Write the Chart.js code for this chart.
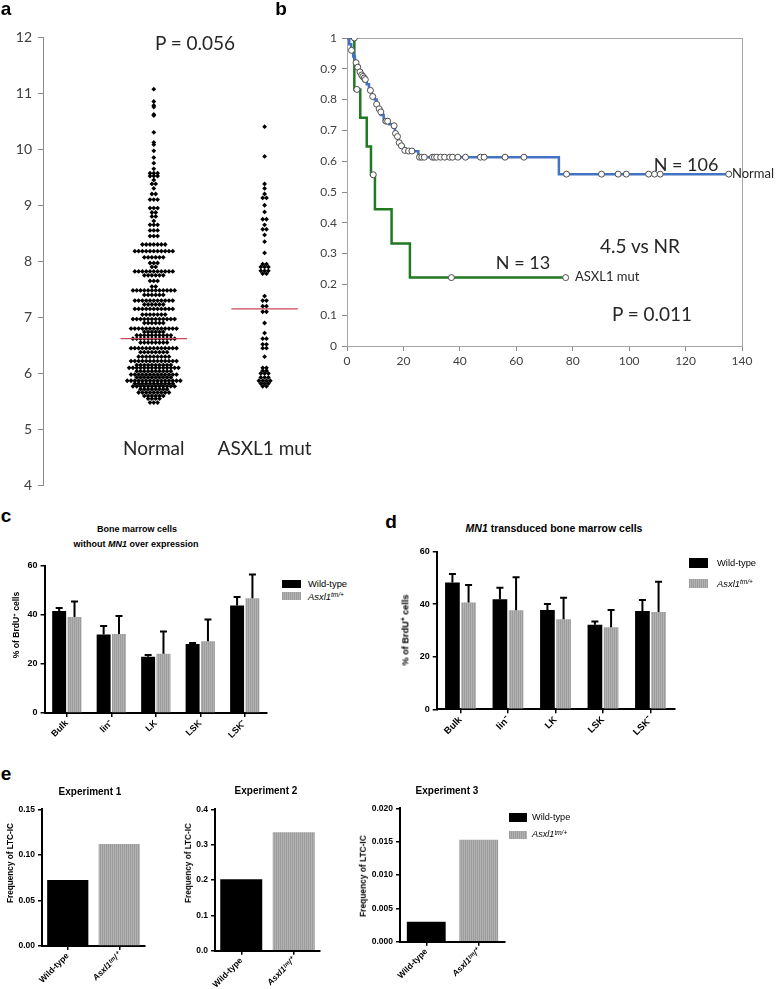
<!DOCTYPE html>
<html>
<head>
<meta charset="utf-8">
<script src="https://cdn.jsdelivr.net/npm/chart.js@4.4.0/dist/chart.umd.min.js"></script>
<style>
  body { margin: 0; background: #fff; }
  #page { position: relative; width: 778px; height: 989px; overflow: hidden; font-family: 'Liberation Sans', Arial, sans-serif; color: #000; }
  canvas { position: absolute; }
  .t { position: absolute; white-space: nowrap; transform: translate(-50%, -50%); line-height: 1; }
  .l { position: absolute; white-space: nowrap; transform: translateY(-50%); line-height: 1; }
  .yt { position: absolute; white-space: nowrap; transform: translate(-50%, -50%) rotate(-90deg); line-height: 1; font-weight: bold; }
  .cal { font-family: Lato, 'Open Sans', sans-serif; color: #262626; }
  .pl { font-weight: bold; font-size: 19px; }
  .ttl { font-weight: bold; }
  .box { position: absolute; }
  .wt { background: #000; }
  .ko { background: repeating-linear-gradient(90deg, #9c9c9c 0 1px, #b2b2b2 1px 2px); }
  sup { font-size: 0.7em; vertical-align: 0.45em; line-height: 0; }
</style>
</head>
<body>
<div id="page">
  <canvas id="chartA" width="330" height="500" style="left:0;top:0"></canvas>
  <canvas id="chartB" width="478" height="380" style="left:300px;top:0"></canvas>
  <canvas id="chartC" width="280" height="205" style="left:0;top:555px"></canvas>
  <canvas id="chartD" width="300" height="220" style="left:390px;top:540px"></canvas>
  <canvas id="chartE1" width="160" height="194" style="left:0;top:795px"></canvas>
  <canvas id="chartE2" width="160" height="194" style="left:172px;top:795px"></canvas>
  <canvas id="chartE3" width="160" height="194" style="left:355px;top:795px"></canvas>

  <!-- panel letters -->
  <div class="t pl" style="left:6px;top:8px">a</div>
  <div class="t pl" style="left:281px;top:8px">b</div>
  <div class="t pl" style="left:6px;top:515px">c</div>
  <div class="t pl" style="left:391px;top:521px">d</div>
  <div class="t pl" style="left:6px;top:773px">e</div>

  <!-- panel a / b annotations -->
  <div class="t cal" style="left:195px;top:42px;font-size:19px">P = 0.056</div>
  <div class="t cal" style="left:686px;top:164px;font-size:18px">N = 106</div>
  <div class="l cal" style="left:732px;top:173px;font-size:13px">Normal</div>
  <div class="t cal" style="left:640px;top:245px;font-size:19px">4.5 vs NR</div>
  <div class="t cal" style="left:523px;top:262px;font-size:18px">N = 13</div>
  <div class="l cal" style="left:575px;top:276px;font-size:13px">ASXL1 mut</div>
  <div class="t cal" style="left:652px;top:313px;font-size:19px">P = 0.011</div>

  <!-- panel c -->
  <div class="t ttl" style="left:137px;top:529px;font-size:9px">Bone marrow cells</div>
  <div class="t ttl" style="left:136px;top:544px;font-size:9px">without <i>MN1</i> over expression</div>
  <div class="yt" style="left:16px;top:625px;font-size:8.6px">% of BrdU<sup>+</sup> cells</div>
  <div class="box wt" style="left:282px;top:580px;width:19px;height:8px"></div>
  <div class="l" style="left:308px;top:584px;font-size:9.4px">Wild-type</div>
  <div class="box ko" style="left:282px;top:592px;width:19px;height:8px"></div>
  <div class="l" style="left:308px;top:597px;font-size:9.4px"><i>Asxl1<sup>tm/+</sup></i></div>

  <!-- panel d -->
  <div class="t ttl" style="left:554px;top:528px;font-size:10.5px"><i>MN1</i> transduced bone marrow cells</div>
  <div class="yt" style="left:406px;top:630px;font-size:9.2px">% of BrdU<sup>+</sup> cells</div>
  <div class="box wt" style="left:689px;top:558px;width:19px;height:10px"></div>
  <div class="l" style="left:717px;top:563px;font-size:9.4px">Wild-type</div>
  <div class="box ko" style="left:689px;top:579px;width:19px;height:9px"></div>
  <div class="l" style="left:717px;top:584px;font-size:9.4px"><i>Asxl1<sup>tm/+</sup></i></div>

  <!-- panel e -->
  <div class="t ttl" style="left:90px;top:792px;font-size:10px">Experiment 1</div>
  <div class="t ttl" style="left:266px;top:791px;font-size:10px">Experiment 2</div>
  <div class="t ttl" style="left:447px;top:791px;font-size:10px">Experiment 3</div>
  <div class="yt" style="left:11px;top:863px;font-size:8.2px">Frequency of LTC-IC</div>
  <div class="yt" style="left:189px;top:863px;font-size:8.2px">Frequency of LTC-IC</div>
  <div class="yt" style="left:363px;top:876px;font-size:8.4px">Frequency of LTC-IC</div>
  <div class="box wt" style="left:509px;top:813px;width:18px;height:9px"></div>
  <div class="l" style="left:532px;top:818px;font-size:9.2px">Wild-type</div>
  <div class="box ko" style="left:509px;top:831px;width:18px;height:8px"></div>
  <div class="l" style="left:532px;top:835px;font-size:9.2px"><i>Asxl1<sup>tm/+</sup></i></div>
</div>

<script>
// ---- panel a: expression values per group ----
const groupsA = ['Normal', 'ASXL1 mut'];
const normalValues = [
  11.07, 10.85, 10.78, 10.75, 10.62, 10.6, 10.3, 10.12, 10.08, 9.97, 9.85, 9.75, 9.65,
  9.57, 9.57, 9.57, 9.52, 9.52, 9.52, 9.45, 9.38, 9.38, 9.3, 9.2, 9.2, 9.1, 9.1, 9.1,
  8.95, 8.95, 8.95, 8.87, 8.87, 8.8, 8.8, 8.72, 8.65, 8.65, 8.65, 8.55, 8.55, 8.55, 8.45, 8.45, 8.45,
  8.3, 8.3, 8.3, 8.3, 8.3, 8.3, 8.3,
  8.18, 8.18, 8.18, 8.18, 8.18, 8.18, 8.18, 8.18, 8.18, 8.18, 8.18,
  8.07, 8.07, 8.07, 8.07, 8.07, 8.07,
  7.97, 7.97, 7.97, 7.9, 7.9,
  7.82, 7.82, 7.82, 7.82, 7.82, 7.82, 7.82, 7.82, 7.82, 7.82, 7.82,
  7.75, 7.75, 7.75, 7.75, 7.75, 7.75,
  7.65, 7.65, 7.65, 7.55, 7.55,
  7.48, 7.48, 7.48, 7.48, 7.48, 7.48, 7.48, 7.48, 7.48, 7.48, 7.48, 7.48,
  7.4, 7.4, 7.4, 7.4, 7.4, 7.4,
  7.3, 7.3, 7.3, 7.3, 7.3, 7.3, 7.3, 7.3, 7.3, 7.3, 7.3,
  7.23, 7.23, 7.23, 7.23, 7.23, 7.23,
  7.15, 7.15, 7.15, 7.15, 7.15, 7.15, 7.15, 7.15, 7.15, 7.15, 7.15,
  7.05, 7.05, 7.05, 7.05, 7.05, 7.05, 7.05,
  6.97, 6.97, 6.97, 6.97, 6.97, 6.97, 6.97, 6.97, 6.97, 6.97, 6.97, 6.97,
  6.9, 6.9, 6.9, 6.9, 6.9, 6.9,
  6.8, 6.8, 6.8, 6.8, 6.8, 6.8, 6.8, 6.8, 6.8, 6.8, 6.8, 6.8, 6.8,
  6.74, 6.74, 6.74, 6.74, 6.74, 6.74,
  6.68, 6.68, 6.68, 6.68, 6.68, 6.68, 6.68, 6.68, 6.68, 6.68,
  6.62, 6.62, 6.62, 6.62, 6.62, 6.62, 6.62, 6.62, 6.62, 6.62, 6.62, 6.62,
  6.55, 6.55, 6.55, 6.55, 6.55, 6.55, 6.55, 6.55,
  6.45, 6.45, 6.45, 6.45, 6.45, 6.45, 6.45, 6.45, 6.45, 6.45, 6.45, 6.45, 6.45,
  6.38, 6.38, 6.38, 6.38, 6.38, 6.38, 6.38, 6.38,
  6.3, 6.3, 6.3, 6.3, 6.3, 6.3, 6.3, 6.3, 6.3,
  6.22, 6.22, 6.22, 6.22, 6.22, 6.22, 6.22, 6.22, 6.22, 6.22, 6.22, 6.22, 6.22,
  6.15, 6.15, 6.15, 6.15, 6.15, 6.15, 6.15, 6.15, 6.15, 6.15,
  6.1, 6.1, 6.1, 6.1, 6.1, 6.1, 6.1, 6.1, 6.1, 6.1, 6.1, 6.1, 6.1, 6.1,
  6.04, 6.04, 6.04, 6.04, 6.04, 6.04, 6.04, 6.04, 6.04, 6.04,
  5.98, 5.98, 5.98, 5.98, 5.98, 5.98, 5.98, 5.98, 5.98, 5.98, 5.98, 5.98, 5.98,
  5.93, 5.93, 5.93, 5.93, 5.93, 5.93, 5.93, 5.93, 5.93, 5.93,
  5.87, 5.87, 5.87, 5.87, 5.87, 5.87, 5.87, 5.87, 5.87, 5.87, 5.87, 5.87, 5.87, 5.87, 5.87,
  5.82, 5.82, 5.82, 5.82, 5.82, 5.82, 5.82, 5.82, 5.82, 5.82, 5.82,
  5.77, 5.77, 5.77, 5.77, 5.77, 5.77, 5.77, 5.77, 5.77, 5.77, 5.77, 5.77,
  5.72, 5.72, 5.72, 5.72, 5.72, 5.72, 5.72, 5.72,
  5.66, 5.66, 5.66, 5.66, 5.66, 5.66, 5.66, 5.66, 5.66,
  5.6, 5.6, 5.6, 5.6, 5.6, 5.6,
  5.55, 5.55, 5.55, 5.55, 5.48, 5.48, 5.48
];
const asxlValues = [
  10.4, 9.87, 9.38, 9.3, 9.2, 9.13, 9.13, 9.0, 8.88, 8.75, 8.75, 8.65, 8.57, 8.57, 8.47, 8.35, 8.15,
  7.95, 7.95, 7.9, 7.9, 7.9, 7.83, 7.83, 7.83, 7.78, 7.78,
  7.38, 7.3, 7.3, 7.2, 7.2, 7.1, 7.1, 6.9, 6.72, 6.62, 6.62, 6.52, 6.52, 6.45, 6.45, 6.3,
  6.1, 6.1, 6.05, 6.05, 6.0, 6.0, 6.0, 5.93, 5.93, 5.93, 5.87, 5.87, 5.87, 5.87, 5.82, 5.82, 5.82, 5.77, 5.77
];
const mediansA = [6.62, 7.15];

// ---- panel b: Kaplan-Meier curves ----
const normalTimes = [0, 0.8, 1.5, 2.2, 2.8, 3.5, 4.3, 5, 6, 7, 7.8, 8.8, 9.8, 10.5, 11.3, 12, 13, 15, 16.3, 17, 17.8, 18.3, 19, 20, 20.8, 25.3, 75.1, 135.3];
const normalSurv = [1, 0.98, 0.96, 0.94, 0.92, 0.91, 0.89, 0.88, 0.86, 0.85, 0.83, 0.81, 0.8, 0.78, 0.77, 0.75, 0.73, 0.72, 0.71, 0.69, 0.68, 0.66, 0.65, 0.64, 0.632, 0.613, 0.558, 0.558];
const normalCensorTimes = [1.6, 3.2, 3.8, 4.6, 5.2, 5.6, 6.1, 6.5, 8.3, 9.1, 10.5, 11.4, 12, 13.8, 14.4, 16.7, 17.2, 17.9, 18.5, 19.3, 20.5, 21.8, 23, 25.7, 26.5, 27.4, 30.3, 31, 31.8, 33.2, 34.6, 36.4, 37.4, 39.3, 42, 47.3, 48.6, 56, 62.7, 77.8, 90.2, 96.1, 99, 106.9, 109, 111, 135.3];
const normalCensorSurv = [0.96, 0.92, 0.905, 0.89, 0.88, 0.875, 0.87, 0.865, 0.83, 0.81, 0.785, 0.77, 0.76, 0.73, 0.73, 0.715, 0.69, 0.68, 0.66, 0.65, 0.635, 0.633, 0.633, 0.613, 0.613, 0.613, 0.613, 0.613, 0.613, 0.613, 0.613, 0.613, 0.613, 0.613, 0.613, 0.613, 0.613, 0.613, 0.613, 0.558, 0.558, 0.558, 0.558, 0.558, 0.558, 0.558, 0.558];
const asxlTimes = [0, 2.6, 4.7, 7, 8.5, 9.9, 15.8, 22.3, 77.5];
const asxlSurv = [1, 0.833, 0.741, 0.648, 0.556, 0.444, 0.333, 0.222, 0.222];
const asxlCensorTimes = [2.6, 3.5, 9.3, 37, 77.5];
const asxlCensorSurv = [1, 0.833, 0.556, 0.222, 0.222];

// ---- panels c, d: % BrdU+ cells ----
const cellTypes = ['Bulk', 'lin\u207B', 'LK', 'LSK', 'LSK\u207B'];
const wtC = [41.6, 32, 23, 28.2, 43.9];
const wtCErr = [1.3, 3.5, 0.7, 0.4, 3.4];
const koC = [39.2, 32.2, 24.2, 29.3, 46.8];
const koCErr = [6.3, 7.4, 9.1, 8.9, 9.7];
const wtD = [48.3, 41.9, 37.8, 32.2, 37.4];
const wtDErr = [3.2, 4.4, 2.3, 1.2, 4.2];
const koD = [40.7, 37.7, 34.3, 31.2, 37.0];
const koDErr = [6.6, 12.6, 8.2, 6.6, 11.6];

// ---- panel e: LTC-IC frequency ----
const genotypes = ['Wild-type', 'Asxl1\u1D57\u1D50/\u207A'];
const exp1 = [0.0724, 0.112];
const exp2 = [0.202, 0.335];
const exp3 = [0.003, 0.0153];

const ARIAL = "'Liberation Sans', Arial, sans-serif";
const CAL = "Lato, 'Open Sans', sans-serif";

// lay equal values side by side in a row, centred on the group (dot plot)
function dotRows(values, center) {
  const gap = 3.8 / 111;   // 3.8px in x units
  const rows = new Map();
  values.forEach(v => rows.set(v, (rows.get(v) || 0) + 1));
  const pts = [];
  rows.forEach((n, v) => {
    for (let k = 0; k < n; k++) pts.push({x: center + (k - (n - 1) / 2) * gap, y: v});
  });
  return pts;
}

const groupLabels = {
  id: 'groupLabels',
  afterDraw(chart) {
    const {ctx, scales: {x, y}} = chart;
    ctx.save();
    ctx.font = '19px ' + CAL;
    ctx.fillStyle = '#262626';
    ctx.textAlign = 'center';
    ctx.textBaseline = 'middle';
    groupsA.forEach((g, i) => ctx.fillText(g, x.getPixelForValue(i + 1), y.getPixelForValue(4.65)));
    ctx.restore();
  }
};

const frame = {
  id: 'frame',
  beforeDatasetsDraw(chart) {
    const {ctx, chartArea: {left, top, right, bottom}} = chart;
    ctx.save();
    ctx.strokeStyle = '#a6a6a6';
    ctx.lineWidth = 1;
    ctx.strokeRect(left + 0.5, top + 0.5, right - left, bottom - top);
    ctx.restore();
  }
};

const errorBars = {
  id: 'errorBars',
  afterDatasetsDraw(chart) {
    const {ctx, scales: {y}} = chart;
    chart.data.datasets.forEach((ds, i) => {
      if (!ds.errors) return;
      chart.getDatasetMeta(i).data.forEach((bar, j) => {
        const top = y.getPixelForValue(ds.data[j] + ds.errors[j]);
        ctx.save();
        ctx.strokeStyle = '#000';
        ctx.lineWidth = 2;
        ctx.beginPath();
        ctx.moveTo(bar.x, bar.y);
        ctx.lineTo(bar.x, top);
        ctx.moveTo(bar.x - 3.5, top);
        ctx.lineTo(bar.x + 3.5, top);
        ctx.stroke();
        ctx.restore();
      });
    });
  }
};

function stripes() {
  const c = document.createElement('canvas');
  c.width = 2; c.height = 2;
  const g = c.getContext('2d');
  g.fillStyle = '#b2b2b2'; g.fillRect(0, 0, 2, 2);
  g.fillStyle = '#9c9c9c'; g.fillRect(0, 0, 1, 2);
  return g.createPattern(c, 'repeat');
}
const grey = stripes();

Chart.defaults.animation = false;
Chart.defaults.responsive = false;
Chart.defaults.devicePixelRatio = 1;
Chart.defaults.plugins.legend.display = false;
Chart.defaults.plugins.tooltip.enabled = false;

// panel a
new Chart(document.getElementById('chartA'), {
  type: 'scatter',
  data: {
    datasets: [
      ...mediansA.map((m, i) => ({
        type: 'line',
        data: [{x: i + 0.7, y: m}, {x: i + 1.3, y: m}],
        borderColor: '#c9485b', borderWidth: 1.3, pointRadius: 0
      })),
      {data: dotRows(normalValues, 1), backgroundColor: '#000', borderWidth: 0, pointStyle: 'rectRot', pointRadius: 2.4},
      {data: dotRows(asxlValues, 2), backgroundColor: '#000', borderWidth: 0, pointStyle: 'rectRot', pointRadius: 2.4}
    ]
  },
  options: {
    layout: {padding: {top: 37, right: 10, bottom: 8, left: 0}},
    scales: {
      x: {display: false, min: 0, max: 2.5},
      y: {
        min: 4, max: 12,
        ticks: {stepSize: 1, color: '#404040', font: {family: CAL, size: 14}, padding: 6},
        grid: {drawOnChartArea: false, color: '#8a8a8a', tickLength: 5},
        border: {color: '#8a8a8a'},
        afterFit: s => { s.width = 43; }
      }
    }
  },
  plugins: [groupLabels]
});

// panel b
const toPts = (xs, ys) => xs.map((t, i) => ({x: t, y: ys[i]}));
const censorStyle = {showLine: false, pointStyle: 'circle', pointRadius: 3, backgroundColor: '#fff', borderColor: '#4d4d4d', borderWidth: 1};
new Chart(document.getElementById('chartB'), {
  type: 'scatter',
  data: {
    datasets: [
      {data: toPts(normalCensorTimes, normalCensorSurv), ...censorStyle},
      {data: toPts(asxlCensorTimes, asxlCensorSurv), ...censorStyle},
      {data: toPts(normalTimes, normalSurv), showLine: true, stepped: 'before', borderColor: '#4472c4', borderWidth: 2.5, pointRadius: 0},
      {data: toPts(asxlTimes, asxlSurv), showLine: true, stepped: 'before', borderColor: '#217a21', borderWidth: 2.5, pointRadius: 0}
    ]
  },
  options: {
    layout: {padding: {top: 38, right: 36, bottom: 0, left: 0}},
    scales: {
      x: {
        min: 0, max: 140,
        ticks: {stepSize: 20, color: '#404040', font: {family: CAL, size: 12}, padding: 3},
        grid: {drawOnChartArea: false, color: '#8a8a8a', tickLength: 5},
        border: {color: '#8a8a8a'},
        afterFit: s => { s.height = 34; }
      },
      y: {
        min: 0, max: 1,
        ticks: {stepSize: 0.1, color: '#404040', font: {family: CAL, size: 12}, padding: 5, callback: v => String(Math.round(v * 10) / 10)},
        grid: {drawOnChartArea: false, color: '#8a8a8a', tickLength: 5},
        border: {color: '#8a8a8a'},
        afterFit: s => { s.width = 47; }
      }
    }
  },
  plugins: [frame]
});

// bar charts (panels c, d, e)
function barChart(id, labels, sets, o) {
  return new Chart(document.getElementById(id), {
    type: 'bar',
    data: {
      labels,
      datasets: sets.map(s => ({
        data: s.data, errors: s.err, backgroundColor: s.color,
        barPercentage: o.barPct, categoryPercentage: o.catPct
      }))
    },
    options: {
      layout: {padding: {top: o.top, right: o.right, bottom: 0, left: 0}},
      scales: {
        x: {
          grid: {drawOnChartArea: false, offset: false, color: '#000', lineWidth: 1.5, tickLength: 4},
          border: {color: '#000', width: 2},
          ticks: {
            autoSkip: false, minRotation: 45, maxRotation: 45, padding: 1, color: '#000',
            font: ctx => ({family: ARIAL, size: o.xFont, weight: 'bold', style: o.italicLast && ctx.index === 1 ? 'italic' : 'normal'})
          },
          afterFit: s => { s.height = o.xh; }
        },
        y: {
          min: 0, max: o.max,
          ticks: {stepSize: o.step, color: '#000', padding: 3, font: {family: ARIAL, size: o.yFont, weight: 'bold'}, callback: v => v.toFixed(o.dec)},
          grid: {drawOnChartArea: false, color: '#000', lineWidth: 1.5, tickLength: 4},
          border: {color: '#000', width: 2},
          afterFit: s => { s.width = o.left; }
        }
      }
    },
    plugins: [errorBars]
  });
}

barChart('chartC', cellTypes, [
  {data: wtC, err: wtCErr, color: '#000'},
  {data: koC, err: koCErr, color: grey}
], {top: 11, right: 13, left: 44.6, xh: 47, max: 60, step: 20, dec: 0, barPct: 0.91, catPct: 0.69, xFont: 9, yFont: 9});

barChart('chartD', cellTypes, [
  {data: wtD, err: wtDErr, color: '#000'},
  {data: koD, err: koDErr, color: grey}
], {top: 11.7, right: 15.75, left: 46.75, xh: 50.7, max: 60, step: 20, dec: 0, barPct: 0.91, catPct: 0.68, xFont: 9.5, yFont: 9});

const single = (vals) => [{data: vals, color: ['#000', grey]}];
barChart('chartE1', genotypes, single(exp1),
  {top: 14.3, right: 15, left: 42, xh: 43, max: 0.15, step: 0.05, dec: 2, barPct: 0.8, catPct: 1, xFont: 8.5, yFont: 8.5, italicLast: true});
barChart('chartE2', genotypes, single(exp2),
  {top: 14.3, right: 12, left: 43, xh: 38.3, max: 0.4, step: 0.1, dec: 1, barPct: 0.8, catPct: 1, xFont: 8.5, yFont: 8.5, italicLast: true});
barChart('chartE3', genotypes, single(exp3),
  {top: 13.3, right: 10, left: 45, xh: 47.3, max: 0.02, step: 0.005, dec: 3, barPct: 0.74, catPct: 1, xFont: 8.5, yFont: 8.5, italicLast: true});
</script>
</body>
</html>
